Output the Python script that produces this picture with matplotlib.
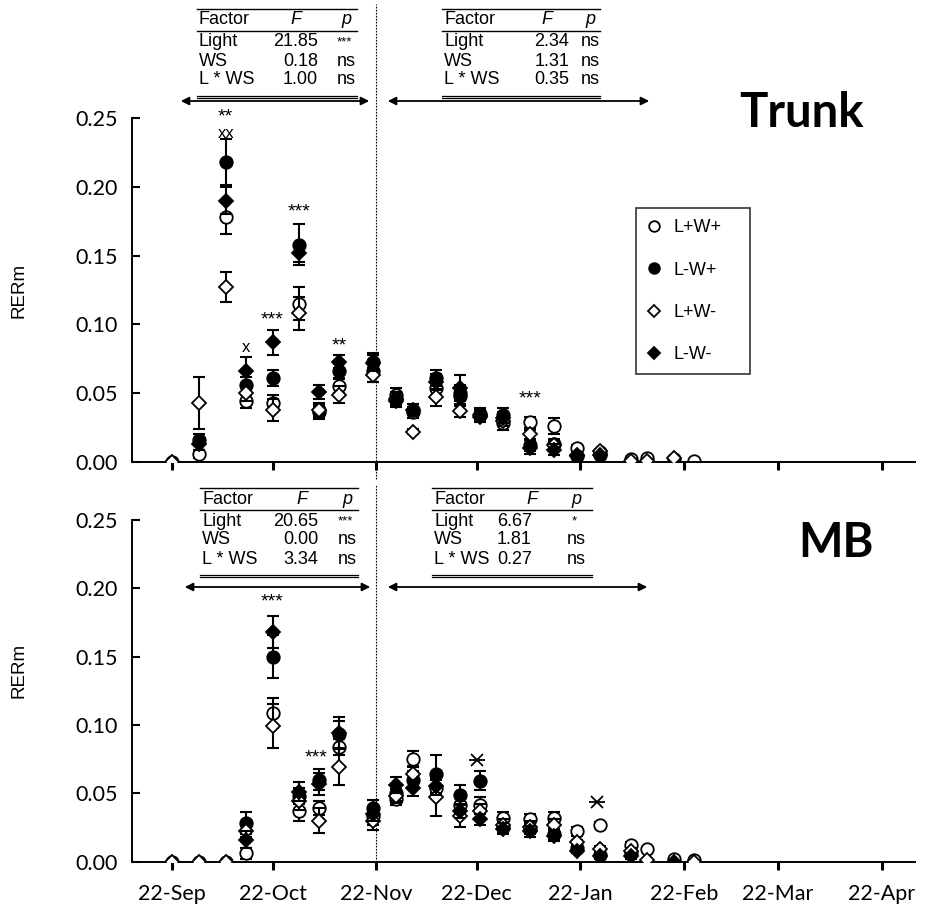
import datetime as dt
import numpy as np
import matplotlib
matplotlib.use("Agg")
import matplotlib.pyplot as plt
import matplotlib.dates as mdates
from matplotlib.lines import Line2D

nan = np.nan

# sampling dates (Sep 2012 - Feb 2013)
dates = ["2012-09-22", "2012-09-30", "2012-10-08", "2012-10-14", "2012-10-22",
         "2012-10-30", "2012-11-05", "2012-11-11", "2012-11-21", "2012-11-28",
         "2012-12-03", "2012-12-10", "2012-12-17", "2012-12-23", "2012-12-30",
         "2013-01-07", "2013-01-14", "2013-01-21", "2013-01-28", "2013-02-06",
         "2013-02-11", "2013-02-19", "2013-02-25"]

labels = ["L+W+", "L-W+", "L+W-", "L-W-"]

# Trunk
trunk_lpwp = [0.0, 0.006, 0.178, 0.044, 0.043, 0.115, 0.036, 0.055, 0.066, 0.049, 0.036, 0.054,
              0.048, 0.034, 0.028, 0.029, 0.026, 0.010, 0.007, 0.002, 0.003, 0.002, 0.0005]
trunk_lmwp = [nan, 0.016, 0.218, 0.056, 0.061, 0.158, 0.038, 0.066, 0.073, 0.046, 0.038, 0.061,
              0.050, 0.035, 0.034, 0.012, 0.013, 0.004, 0.005, nan, nan, nan, nan]
trunk_lpwm = [0.0, 0.043, 0.127, 0.050, 0.038, 0.108, 0.038, 0.049, 0.063, 0.046, 0.022, 0.047,
              0.037, 0.034, 0.030, 0.020, 0.012, 0.005, 0.008, 0.001, 0.001, 0.003, nan]
trunk_lmwm = [nan, 0.013, 0.190, 0.066, 0.087, 0.152, 0.051, 0.073, 0.072, 0.044, 0.038, 0.058,
              0.054, 0.033, 0.032, 0.010, 0.009, 0.004, 0.005, nan, nan, nan, nan]
trunk_lpwp_se = [0, 0.003, 0.012, 0.005, 0.006, 0.012, 0.005, 0.005, 0.008, 0.005, 0.004, 0.005,
                 0.006, 0.004, 0.005, 0.004, 0.006, 0.002, 0.002, 0.001, 0.001, 0.001, 0.0005]
trunk_lmwp_se = [nan, 0.004, 0.017, 0.006, 0.006, 0.015, 0.004, 0.005, 0.006, 0.005, 0.004, 0.006,
                 0.006, 0.004, 0.005, 0.004, 0.004, 0.001, 0.001, nan, nan, nan, nan]
trunk_lpwm_se = [0, 0.019, 0.011, 0.006, 0.008, 0.012, 0.005, 0.006, 0.005, 0.004, 0.002, 0.006,
                 0.004, 0.004, 0.004, 0.003, 0.003, 0.001, 0.001, 0.001, 0.001, 0.001, nan]
trunk_lmwm_se = [nan, 0.004, 0.010, 0.010, 0.009, 0.007, 0.005, 0.005, 0.006, 0.004, 0.004, 0.006,
                 0.009, 0.004, 0.004, 0.004, 0.004, 0.001, 0.001, nan, nan, nan, nan]

# MB
mb_lpwp = [0.0, 0.0, 0.0, 0.006, 0.109, 0.037, 0.039, 0.084, 0.033, 0.046, 0.075, 0.054,
           0.041, 0.041, 0.032, 0.031, 0.032, 0.022, 0.027, 0.012, 0.009, 0.002, 0.001]
mb_lmwp = [nan, nan, nan, 0.028, 0.150, 0.048, 0.060, 0.093, 0.039, 0.050, 0.060, 0.064,
           0.049, 0.059, 0.025, 0.024, 0.020, 0.010, 0.005, 0.006, nan, nan, nan]
mb_lpwm = [0.0, 0.0, 0.0, 0.022, 0.099, 0.044, 0.030, 0.069, 0.030, 0.048, 0.064, 0.047,
           0.033, 0.037, 0.027, 0.025, 0.027, 0.014, 0.009, 0.008, 0.001, nan, 0.0]
mb_lmwm = [nan, nan, nan, 0.016, 0.168, 0.051, 0.057, 0.094, 0.035, 0.056, 0.054, 0.055,
           0.037, 0.031, 0.024, 0.022, 0.019, 0.008, 0.004, 0.004, nan, 0.0, nan]
mb_lpwp_se = [0, 0, 0, 0.004, 0.011, 0.007, 0.005, 0.006, 0.006, 0.005, 0.006, 0.006,
              0.006, 0.006, 0.004, 0.004, 0.004, 0.003, 0.002, 0.002, 0.001, 0, 0]
mb_lmwp_se = [nan, nan, nan, 0.008, 0.016, 0.006, 0.008, 0.010, 0.006, 0.006, 0.006, 0.014,
              0.007, 0.007, 0.004, 0.004, 0.004, 0.002, 0.002, 0.002, nan, nan, nan]
mb_lpwm_se = [0, 0, 0, 0.004, 0.016, 0.006, 0.009, 0.013, 0.007, 0.005, 0.006, 0.014,
              0.008, 0.005, 0.004, 0.005, 0.004, 0.002, 0.002, 0.002, 0.001, nan, 0]
mb_lmwm_se = [nan, nan, nan, 0.006, 0.012, 0.007, 0.008, 0.012, 0.005, 0.006, 0.006, 0.006,
              0.005, 0.004, 0.004, 0.004, 0.004, 0.002, 0.002, 0.002, nan, 0, nan]

# ANOVA tables (before / after 22-Nov)
trunk_pre = [("Light", "21.85", "***"), ("WS", "0.18", "ns"), ("L * WS", "1.00", "ns")]
trunk_post = [("Light", "2.34", "ns"), ("WS", "1.31", "ns"), ("L * WS", "0.35", "ns")]
mb_pre = [("Light", "20.65", "***"), ("WS", "0.00", "ns"), ("L * WS", "3.34", "ns")]
mb_post = [("Light", "6.67", "*"), ("WS", "1.81", "ns"), ("L * WS", "0.27", "ns")]

# significance marks: (date, y, text)
trunk_sig = [("2012-10-08", 0.251, "**"), ("2012-10-08", 0.239, "xx"), ("2012-10-14", 0.083, "x"),
             ("2012-10-22", 0.103, "***"), ("2012-10-30", 0.182, "***"), ("2012-11-11", 0.084, "**"),
             ("2013-01-07", 0.046, "***")]
mb_sig = [("2012-10-22", 0.190, "***"), ("2012-11-04", 0.076, "***")]
mb_xsig = [("2012-12-22", 0.0745), ("2013-01-27", 0.0435)]

split_date = "2012-11-22"

W, H = 933, 908
fig = plt.figure(figsize=(W / 100, H / 100), dpi=100)


def fx(x):
    return x / W


def fy(y):
    return 1 - y / H


ax1 = fig.add_axes([fx(132), fy(462), fx(915) - fx(132), fy(118) - fy(462)])
ax2 = fig.add_axes([fx(132), fy(861.5), fx(915) - fx(132), fy(520) - fy(861.5)])

xd = [mdates.date2num(dt.datetime.strptime(d, "%Y-%m-%d")) for d in dates]
styles = [dict(marker="o", mfc="white", mec="black", ms=9),
          dict(marker="o", mfc="black", mec="black", ms=9),
          dict(marker="D", mfc="white", mec="black", ms=7.5),
          dict(marker="D", mfc="black", mec="black", ms=7.5)]
order = [1, 3, 2, 0]


def dnum(s):
    return mdates.date2num(dt.datetime.strptime(s, "%Y-%m-%d"))


def panel(ax, series, errs, title, title_xy, label_y):
    for i in order:
        ax.errorbar(xd, series[i], yerr=errs[i], fmt="none", ecolor="black",
                    elinewidth=1.5, capsize=4.5, capthick=1.5, zorder=2 + i)
        ax.plot(xd, series[i], linestyle="none", mew=1.3, zorder=2.5 + i, **styles[i])
    ax.set_ylim(0, 0.25)
    ax.set_yticks(np.arange(0, 0.26, 0.05))
    ax.yaxis.set_major_formatter(matplotlib.ticker.FormatStrFormatter("%.2f"))
    ax.set_xlim(dnum("2012-09-10"), dnum("2013-05-02"))
    ticks = [dnum("2012-%02d-22" % m) for m in (9, 10, 11, 12)] + \
            [dnum("2013-%02d-22" % m) for m in (1, 2, 3, 4)]
    ax.set_xticks(ticks)
    ax.xaxis.set_major_formatter(mdates.DateFormatter("%d-%b"))
    for s in ("top", "right"):
        ax.spines[s].set_visible(False)
    for s in ("left", "bottom"):
        ax.spines[s].set_linewidth(1.4)
    ax.tick_params(axis="y", direction="in", length=6, width=1.5, pad=10, labelsize=15.5)
    ax.tick_params(axis="x", direction="out", length=6, width=2.2, pad=10, labelsize=15.5)
    for lab in ax.get_xticklabels() + ax.get_yticklabels():
        lab.set_fontfamily("Lato")
    ax.set_ylabel("RERm", fontsize=13.5, family="Liberation Sans")
    ax.yaxis.set_label_coords(-0.133, label_y)
    fig.text(fx(title_xy[0]), fy(title_xy[1]), title, fontsize=34, fontweight="bold",
             family="Lato", ha="center", va="center")


panel(ax1, [trunk_lpwp, trunk_lmwp, trunk_lpwm, trunk_lmwm],
      [trunk_lpwp_se, trunk_lmwp_se, trunk_lpwm_se, trunk_lmwm_se], "Trunk", (802, 113), 0.5)
panel(ax2, [mb_lpwp, mb_lmwp, mb_lpwm, mb_lmwm],
      [mb_lpwp_se, mb_lmwp_se, mb_lpwm_se, mb_lmwm_se], "MB", (836, 543), 0.56)
ax1.tick_params(axis="x", labelbottom=False)

# dotted split line
ax1.axvline(dnum(split_date), ymin=-0.05, ymax=1.33, color="black", lw=0.8,
            ls=(0, (1.5, 1.2)), clip_on=False, zorder=1)
ax2.axvline(dnum(split_date), ymin=0, ymax=1.105, color="black", lw=0.8,
            ls=(0, (1.5, 1.2)), clip_on=False, zorder=1)

# significance marks
for ax, sig in ((ax1, trunk_sig), (ax2, mb_sig)):
    for d, y, t in sig:
        fs = 14 if "*" in t else 12
        ax.text(dnum(d), y, t, ha="center", va="center", fontsize=fs,
                family="Liberation Sans", zorder=10)
# "x" with a bar through it
for d, y in mb_xsig:
    ax2.plot(dnum(d), y, linestyle="none", marker="x", ms=8, mew=1.3, color="black")
    ax2.plot(dnum(d), y, linestyle="none", marker="_", ms=11, mew=1.3, color="black")


def table(rows, x0, x1, xf, xv, xp, ytop):
    tf = dict(family="Liberation Sans", fontsize=13, va="center")
    for yl in (ytop, ytop + 22):
        fig.add_artist(Line2D([fx(x0), fx(x1)], [fy(yl), fy(yl)], color="black", lw=1))
    for yl in (ytop + 86.5, ytop + 88.5):
        fig.add_artist(Line2D([fx(x0), fx(x1)], [fy(yl), fy(yl)], color="black", lw=0.9))
    fig.text(fx(x0 + 2), fy(ytop + 11), "Factor", ha="left", **tf)
    fig.text(fx(xf), fy(ytop + 11), "F", ha="center", style="italic", **tf)
    fig.text(fx(xp), fy(ytop + 11), "p", ha="center", style="italic", **tf)
    for k, (name, fval, pval) in enumerate(rows):
        yy = fy(ytop + 33 + 19 * k)
        fig.text(fx(x0 + 2), yy, name, ha="left", **tf)
        fig.text(fx(xv), yy, fval, ha="right", **tf)
        if "*" in pval:
            fig.text(fx(xp - 2), yy, pval, ha="center", family="Liberation Sans",
                     fontsize=9.5, va="center")
        else:
            fig.text(fx(xp), yy, pval, ha="center", **tf)


def arrow(xa, xb, y):
    fig.add_artist(matplotlib.patches.FancyArrowPatch(
        (fx(xa), fy(y)), (fx(xb), fy(y)), transform=fig.transFigure,
        arrowstyle="<|-|>", mutation_scale=12, color="black", lw=1.3))


table(trunk_pre, 197, 357, 296, 318, 346, 9)
table(trunk_post, 442, 600, 547, 569, 590, 9)
table(mb_pre, 200, 358, 302, 318, 347, 488)
table(mb_post, 432, 592, 532, 532, 576, 488)
arrow(178, 372, 101)
arrow(385, 652, 101)
arrow(182, 373, 587)
arrow(385, 650, 587)

# legend
handles = [Line2D([], [], linestyle="none", mew=1.3, **dict(styles[i], ms=styles[i]["ms"] * 0.85))
           for i in range(4)]
leg = ax1.legend(handles, labels, loc="upper left",
                 bbox_to_anchor=(0.644, 0.238, 114 / 783, 0.5), mode="expand",
                 borderaxespad=0, frameon=True, fancybox=False, edgecolor="black",
                 labelspacing=1.4, handletextpad=0.75, borderpad=0.62, handlelength=0.7,
                 prop={"family": "Liberation Sans", "size": 13})
leg.get_frame().set_linewidth(1.2)

fig.savefig("out.png", dpi=100)
